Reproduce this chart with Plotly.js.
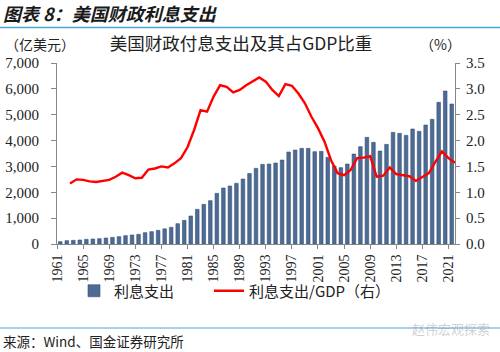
<!DOCTYPE html>
<html><head><meta charset="utf-8">
<script src="https://cdn.plot.ly/plotly-3.0.1.min.js"></script>
<style>html,body{margin:0;padding:0;background:#fff}#chart{width:500px;height:352px}</style>
</head><body><div id="chart"></div>
<script>
const years = [1961,1962,1963,1964,1965,1966,1967,1968,1969,1970,1971,1972,1973,1974,1975,1976,1977,1978,1979,1980,1981,1982,1983,1984,1985,1986,1987,1988,1989,1990,1991,1992,1993,1994,1995,1996,1997,1998,1999,2000,2001,2002,2003,2004,2005,2006,2007,2008,2009,2010,2011,2012,2013,2014,2015,2016,2017,2018,2019,2020,2021];
const interest = [90,129,142,155,180,193,206,232,258,284,322,348,374,438,477,528,587,645,786,915,1083,1341,1534,1676,1959,2165,2243,2346,2513,2725,2926,3081,3093,3132,3248,3558,3635,3700,3700,3570,3583,3351,3016,2952,3093,3480,3763,4125,3932,3596,3854,4318,4280,4202,4447,4357,4602,4821,5479,5917,5414];
const lineYears = [1963,1964,1965,1966,1967,1968,1969,1970,1971,1972,1973,1974,1975,1976,1977,1978,1979,1980,1981,1982,1983,1984,1985,1986,1987,1988,1989,1990,1991,1992,1993,1994,1995,1996,1997,1998,1999,2000,2001,2002,2003,2004,2005,2006,2007,2008,2009,2010,2011,2012,2013,2014,2015,2016,2017,2018,2019,2020,2021,2022];
const ratioGDP = [1.17,1.25,1.24,1.21,1.20,1.22,1.24,1.30,1.38,1.33,1.27,1.28,1.44,1.46,1.50,1.48,1.56,1.66,1.87,2.20,2.59,2.56,2.85,3.07,3.04,2.93,2.98,3.07,3.15,3.22,3.14,2.98,2.86,3.09,3.06,2.91,2.72,2.46,2.24,1.98,1.62,1.37,1.33,1.43,1.66,1.67,1.70,1.30,1.32,1.48,1.35,1.33,1.31,1.22,1.29,1.37,1.59,1.79,1.66,1.57];
const xTickLabels = ['1961','1965','1969','1973','1977','1981','1985','1989','1993','1997','2001','2005','2009','2013','2017','2021'];
const leftTicks = [0,1000,2000,3000,4000,5000,6000,7000];
const rightTicks = [0,0.5,1,1.5,2,2.5,3,3.5];

const L = 57, R = 455, T = 63, B = 244, W = 500, H = 352;
const pw = R - L, ph = B - T;
const px = v => (v - L) / pw;
const py = v => (B - v) / ph;
const serif = 'Liberation Serif, Times New Roman, serif';
const cjk = 'Noto Sans CJK SC, sans-serif';
const axisColor = '#868686';

const traces = [
  {type:'bar', x: years, y: interest, name:'利息支出', xaxis:'x', yaxis:'y', legend:'legend',
   marker:{color:'#4e6b93', line:{color:'#34507a', width:0.6}}, width:0.55},
  {type:'scatter', mode:'lines', x: lineYears, y: ratioGDP, name:'利息支出/GDP（右）', xaxis:'x2', yaxis:'y2', legend:'legend2',
   line:{color:'#ff0000', width:2.4}}
];

const legendBase = {orientation:'h', xanchor:'left', yanchor:'middle',
  font:{family:cjk, size:15, color:'#222'}, bgcolor:'rgba(0,0,0,0)'};

const layout = {
  width: W, height: H,
  margin:{l:L, r:W-R, t:T, b:H-B},
  paper_bgcolor:'#fff', plot_bgcolor:'#fff',
  showlegend:true,
  title:{text:'美国财政付息支出及其占GDP比重', font:{family:cjk, size:17.5, color:'#222'},
         x:241/W, xanchor:'center', y:1-44/H, yanchor:'middle', xref:'container', yref:'container'},
  xaxis:{range:[1960.5, 2021.5], tickmode:'array',
         tickvals: xTickLabels.map(s => +s - 0.5), ticktext: xTickLabels,
         tickangle:-90, ticks:'outside', ticklen:4, tickcolor:axisColor,
         showline:true, linecolor:axisColor, linewidth:1, showgrid:false, zeroline:false,
         tickfont:{family:serif, size:14, color:'#222'}},
  xaxis2:{range:[1961, 2022], overlaying:'x', visible:false, showgrid:false, zeroline:false},
  yaxis:{range:[0,7000], tickmode:'array', tickvals:leftTicks, tickformat:',d',
         ticks:'outside', ticklen:5, tickcolor:axisColor, showline:true, linecolor:axisColor,
         showgrid:false, zeroline:false, ticklabelstandoff:9,
         tickfont:{family:serif, size:15, color:'#222'}},
  yaxis2:{range:[0,3.5], overlaying:'y', side:'right', tickmode:'array', tickvals:rightTicks, tickformat:'.1f',
          ticks:'outside', ticklen:4, tickcolor:axisColor, showline:true, linecolor:axisColor,
          showgrid:false, zeroline:false, ticklabelstandoff:3,
          tickfont:{family:serif, size:15, color:'#222'}},
  legend: Object.assign({}, legendBase, {x:px(74), y:py(291)}),
  legend2: Object.assign({}, legendBase, {x:px(209), y:py(291)}),
  annotations:[
    {text:'<b><i>图表 8：美国财政利息支出</i></b>', xref:'paper', yref:'paper', x:px(1), y:py(13.5),
     xanchor:'left', yanchor:'middle', showarrow:false, font:{family:cjk, size:18, color:'#1a1a1a'}},
    {text:'（亿美元）', xref:'paper', yref:'paper', x:px(3), y:py(44), xanchor:'left', yanchor:'middle',
     showarrow:false, font:{family:cjk, size:14, color:'#222'}},
    {text:'（%）', xref:'paper', yref:'paper', x:px(418), y:py(44), xanchor:'left', yanchor:'middle',
     showarrow:false, font:{family:cjk, size:14, color:'#222'}},
    {text:'来源：Wind、国金证券研究所', xref:'paper', yref:'paper', x:px(1), y:py(341), xanchor:'left', yanchor:'middle',
     showarrow:false, font:{family:cjk, size:13.5, color:'#222'}},
    {text:'赵伟宏观探索', xref:'paper', yref:'paper', x:px(410), y:py(328), xanchor:'left', yanchor:'middle',
     showarrow:false, font:{family:cjk, size:13, color:'rgba(150,150,150,0.45)'}}
  ],
  shapes:[
    {type:'line', xref:'paper', yref:'paper', x0:px(0), x1:px(W), y0:py(27.5), y1:py(27.5), line:{color:'#4ba3d9', width:1.5}},
    {type:'line', xref:'paper', yref:'paper', x0:px(0), x1:px(W), y0:py(328), y1:py(328), line:{color:'#4ba3d9', width:1.2}}
  ]
};
Plotly.newPlot('chart', traces, layout, {displayModeBar:false, staticPlot:true});
</script></body></html>
